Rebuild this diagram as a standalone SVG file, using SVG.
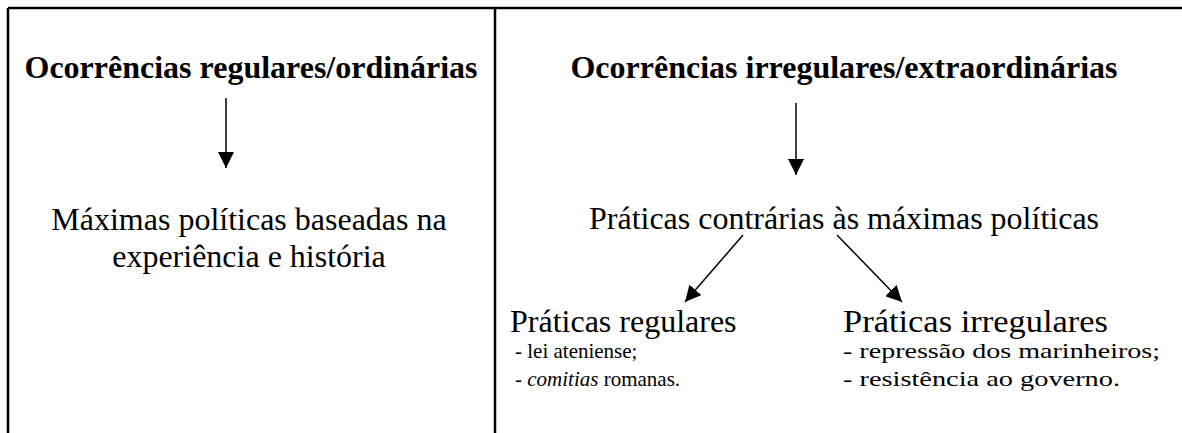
<svg xmlns="http://www.w3.org/2000/svg" width="1182" height="433" viewBox="0 0 1182 433">
<defs>
<marker id="ah" markerUnits="userSpaceOnUse" markerWidth="16" markerHeight="16" viewBox="0 0 16 16" refX="16" refY="8" orient="auto">
<path d="M0,0 L16,8 L0,16 Z" fill="#000"/>
</marker>
<style>
.t{font-family:"Liberation Serif","Times New Roman",serif;fill:#000}
.b{font-weight:bold;font-size:32px}
.m{font-size:32px}
.s{font-size:21px}
.s2{font-size:22px}
.frame{stroke:#000;stroke-width:2.5;fill:none}
.c{stroke:#000;stroke-width:1.5;fill:none;marker-end:url(#ah)}
</style>
</defs>
<rect width="1182" height="433" fill="#fff"/>
<g id="frame">
<line class="frame" x1="8" y1="8" x2="1182" y2="8"/>
<line class="frame" x1="8" y1="8" x2="8" y2="433"/>
<line class="frame" x1="495" y1="8" x2="495" y2="433"/>
</g>
<g id="n-ordinarias">
<text class="t b" x="251" y="78" text-anchor="middle">Ocorrências regulares/ordinárias</text>
</g>
<g id="n-extraordinarias">
<text class="t b" x="844" y="78" text-anchor="middle">Ocorrências irregulares/extraordinárias</text>
</g>
<g id="n-maximas">
<text class="t m" x="249" y="230" text-anchor="middle">Máximas políticas baseadas na</text>
<text class="t m" x="249" y="267" text-anchor="middle">experiência e história</text>
</g>
<g id="n-contrarias">
<text class="t m" x="844" y="229" text-anchor="middle">Práticas contrárias às máximas políticas</text>
</g>
<g id="n-regulares">
<text class="t m" x="510" y="332">Práticas regulares</text>
<text class="t s" x="515" y="358">- lei ateniense;</text>
<text class="t s" x="515" y="386">- <tspan font-style="italic">comitias</tspan> romanas.</text>
</g>
<g id="n-irregulares">
<text class="t m" x="843" y="332" textLength="265" lengthAdjust="spacingAndGlyphs">Práticas irregulares</text>
<text class="t s2" x="843" y="358" textLength="317" lengthAdjust="spacingAndGlyphs">- repressão dos marinheiros;</text>
<text class="t s2" x="843" y="386" textLength="277" lengthAdjust="spacingAndGlyphs">- resistência ao governo.</text>
</g>
<g id="connectors">
<line class="c" x1="226" y1="98" x2="226" y2="168"/>
<line class="c" x1="796" y1="103" x2="796" y2="175"/>
<line class="c" x1="743" y1="235" x2="685" y2="302"/>
<line class="c" x1="837" y1="235" x2="902" y2="302"/>
</g>
</svg>
